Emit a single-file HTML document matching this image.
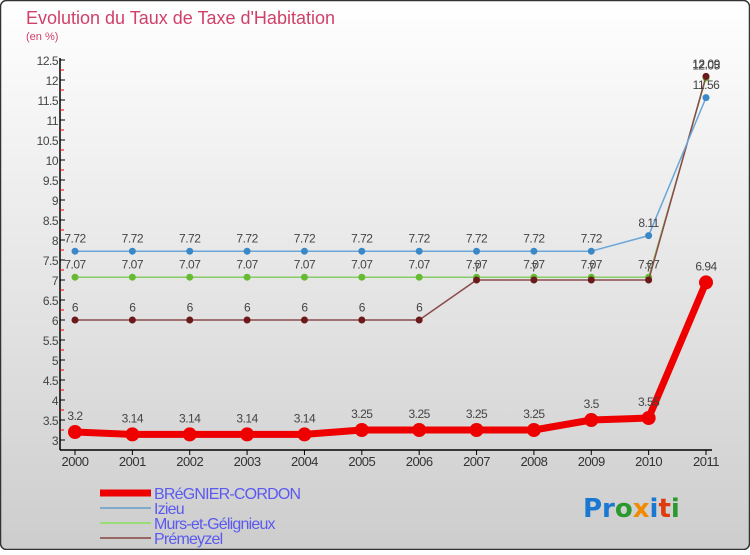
<!DOCTYPE html>
<html><head><meta charset="utf-8"><style>
html,body{margin:0;padding:0}
body{width:750px;height:550px;overflow:hidden;font-family:"Liberation Sans",sans-serif}
</style></head><body>
<svg id="chart" width="750" height="550" xmlns="http://www.w3.org/2000/svg">
<defs><linearGradient id="bg" x1="0" y1="0" x2="0" y2="1"><stop offset="0" stop-color="#ffffff"/><stop offset="1" stop-color="#cdcdcd"/></linearGradient></defs>
<rect x="0.5" y="0.5" width="749" height="549" rx="6" fill="url(#bg)" stroke="#333" stroke-width="1.5"/>
<text x="26" y="24" font-size="18" fill="#d0406a">Evolution du Taux de Taxe d'Habitation</text>
<text x="26" y="40" font-size="11" fill="#d0406a">(en %)</text>
<g id="axes"></g>
<g id="series"></g>
<g id="legend"></g>
<text x="583" y="517" font-size="26" font-weight="bold" font-family="DejaVu Sans,sans-serif"><tspan fill="#1a78d0">Pr</tspan><tspan fill="#2a9a30">o</tspan><tspan fill="#f08a00">x</tspan><tspan fill="#1a78d0">i</tspan><tspan fill="#e03a10">t</tspan><tspan fill="#2a9a30">i</tspan></text>
</svg>
<script>
const years=[2000,2001,2002,2003,2004,2005,2006,2007,2008,2009,2010,2011];
const bregnier=[3.2,3.14,3.14,3.14,3.14,3.25,3.25,3.25,3.25,3.5,3.55,6.94];
const izieu=[7.72,7.72,7.72,7.72,7.72,7.72,7.72,7.72,7.72,7.72,8.11,11.56];
const murs=[7.07,7.07,7.07,7.07,7.07,7.07,7.07,7.07,7.07,7.07,7.07,12.05];
const premeyzel=[6,6,6,6,6,6,6,7,7,7,7,12.09];
const yTicks=[3,3.5,4,4.5,5,5.5,6,6.5,7,7.5,8,8.5,9,9.5,10,10.5,11,11.5,12,12.5];
const NS="http://www.w3.org/2000/svg";
const x=i=>75+i*(706-75)/(years.length-1);
const y=v=>440-(v-3)*40;
function mk(tag,attrs,parent){const e=document.createElementNS(NS,tag);for(const k in attrs)e.setAttribute(k,attrs[k]);parent.appendChild(e);return e;}
const axes=document.getElementById('axes');
mk('line',{x1:60,y1:58,x2:60,y2:450,stroke:'#000','stroke-width':1.5},axes);
mk('line',{x1:60,y1:450,x2:712,y2:450,stroke:'#000','stroke-width':1.5},axes);
yTicks.forEach((t,k)=>{
  const tk=mk('line',{x1:60,y1:y(t),x2:65,y2:y(t),stroke:'#000'},axes);
  
  
  if(k<yTicks.length-1){
    const m=mk('line',{x1:60,y1:y(t)-10,x2:64,y2:y(t)-10,stroke:'#e00'},axes);
    
    
  }
  const lb=mk('text',{x:58,y:y(t)+5,'text-anchor':'end','font-size':12,fill:'#444','letter-spacing':'-0.5'},axes);
  lb.textContent=String(t);
  
  
});
years.forEach((yr,i)=>{
  const tk=mk('line',{x1:x(i),y1:450,x2:x(i),y2:455,stroke:'#000'},axes);
  
  
  const lb=mk('text',{x:x(i),y:466,'text-anchor':'middle','font-size':13,fill:'#333','letter-spacing':'-0.5'},axes);
  lb.textContent=String(yr);
  
  
});
const ser=document.getElementById('series');
function draw(vals,color,dot,w,r,name){
  const g=mk('g',{},ser);
  
  
  const p=mk('polyline',{points:vals.map((v,i)=>x(i)+','+y(v)).join(' '),fill:'none',stroke:color,'stroke-width':w,'stroke-linejoin':'round'},g);
  
  
  vals.forEach((v,i)=>{
    const c=mk('circle',{cx:x(i),cy:y(v),r:r,fill:dot},g);
    
    
    const t=mk('text',{x:x(i),y:y(v)-(r+5),'text-anchor':'middle','font-size':12,fill:'#444','letter-spacing':'-0.5'},g);
    t.textContent=String(v);
    
    
  });
}
draw(murs,'#88cc66','#66bb33',1.5,3.5,'murs-series');
draw(premeyzel,'#8b4a4a','#6a1a1a',1.5,3.5,'premeyzel-series');
draw(izieu,'#6aa6d8','#3a88c8',1.5,3.5,'izieu-series');
draw(bregnier,'#ee0000','#ee0000',7,7,'bregnier-series');
const lg=document.getElementById('legend');
const colors=[['#ee0000',7],['#80aacc',2],['#99dd77',2],['#996666',2]];
const names=['BRéGNIER-CORDON','Izieu','Murs-et-Gélignieux','Prémeyzel'];
colors.forEach((it,k)=>{
  const yy=493+k*15;
  const l=mk('line',{x1:100,y1:yy,x2:151,y2:yy,stroke:it[0],'stroke-width':it[1]},lg);
  
  
  const t=mk('text',{x:154,y:yy+6,'font-size':16,fill:'#5a5af0','letter-spacing':'-0.8'},lg);
  t.textContent=names[k];
  
  
});
</script>
</body></html>
